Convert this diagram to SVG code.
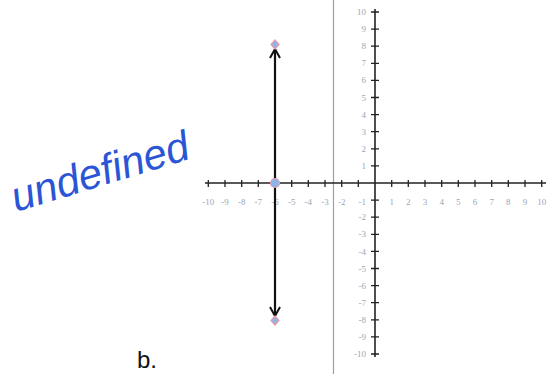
<svg xmlns="http://www.w3.org/2000/svg" width="558" height="374" viewBox="0 0 558 374">
<style>
.axis{stroke:#222;stroke-width:1.6;fill:none}
.tick{stroke:#222;stroke-width:1.3;fill:none}
.lbl{font-family:"Liberation Serif",serif;font-size:9px;fill:#9aa6b8}
.xl{text-anchor:middle}
.yl{text-anchor:end}
.line{stroke:#111;stroke-width:2.2;fill:none}
.dot{fill:#8fb4e8;stroke:#e79aa8;stroke-width:1.2}
</style>
<defs>
<marker id="arr" viewBox="0 0 14 14" refX="12" refY="7" markerWidth="14" markerHeight="14" markerUnits="userSpaceOnUse" orient="auto-start-reverse">
<path d="M3,2 L12,7 L3,12" fill="none" stroke="#111" stroke-width="2"/>
</marker>
</defs>
<rect width="558" height="374" fill="#fff"/>
<line id="border" x1="333.5" y1="0" x2="333.5" y2="374" stroke="#a0a0a0" stroke-width="1.2"/>
<g id="axes">
<line class="axis" x1="205" y1="183" x2="546" y2="183"/>
<line class="axis" x1="375" y1="9" x2="375" y2="357"/>
<path class="tick" d="M208.3,180v7M225,180v7M241.7,180v7M258.3,180v7M275,180v7M291.7,180v7M308.3,180v7M325,180v7M341.7,180v7M358.3,180v7M391.7,180v7M408.3,180v7M425,180v7M441.7,180v7M458.3,180v7M475,180v7M491.7,180v7M508.3,180v7M525,180v7M541.7,180v7"/>
<path class="tick" d="M371,12h8M371,29.1h8M371,46.2h8M371,63.3h8M371,80.4h8M371,97.5h8M371,114.6h8M371,131.7h8M371,148.8h8M371,165.9h8M371,200.1h8M371,217.2h8M371,234.3h8M371,251.4h8M371,268.5h8M371,285.6h8M371,302.7h8M371,319.8h8M371,336.9h8M371,354h8"/>
</g>
<g id="x-labels" class="lbl xl">
<text x="208.3" y="205">-10</text><text x="225" y="205">-9</text><text x="241.7" y="205">-8</text><text x="258.3" y="205">-7</text><text x="275" y="205">-6</text><text x="291.7" y="205">-5</text><text x="308.3" y="205">-4</text><text x="325" y="205">-3</text><text x="341.7" y="205">-2</text>
<text x="391.7" y="205">1</text><text x="408.3" y="205">2</text><text x="425" y="205">3</text><text x="441.7" y="205">4</text><text x="458.3" y="205">5</text><text x="475" y="205">6</text><text x="491.7" y="205">7</text><text x="508.3" y="205">8</text><text x="525" y="205">9</text><text x="541.7" y="205">10</text>
</g>
<g id="y-labels" class="lbl yl">
<text x="366" y="15">10</text><text x="366" y="32">9</text><text x="366" y="49">8</text><text x="366" y="66">7</text><text x="366" y="83">6</text><text x="366" y="100.5">5</text><text x="366" y="117.5">4</text><text x="366" y="134.5">3</text><text x="366" y="151.5">2</text><text x="366" y="169">1</text>
<text x="366" y="205">-1</text><text x="366" y="220">-2</text><text x="366" y="237">-3</text><text x="366" y="254.5">-4</text><text x="366" y="271.5">-5</text><text x="366" y="288.5">-6</text><text x="366" y="305.5">-7</text><text x="366" y="322.5">-8</text><text x="366" y="340">-9</text><text x="366" y="357">-10</text>
</g>
<g id="connectors">
<line class="line" x1="275" y1="49" x2="275" y2="316" marker-start="url(#arr)" marker-end="url(#arr)"/>
</g>
<g id="point-top"><path class="dot" d="M275,40 L279,44.5 L275,49 L271,44.5Z"/></g>
<g id="point-mid"><circle class="dot" cx="275" cy="183" r="4.5"/></g>
<g id="point-bottom"><path class="dot" d="M275,316 L279,320.5 L275,325 L271,320.5Z"/></g>
<text id="undefined-note" x="0" y="0" transform="translate(16,212) rotate(-17)" font-family="Liberation Sans, sans-serif" font-style="italic" font-size="42" fill="#2a56d6" textLength="184" lengthAdjust="spacingAndGlyphs">undefined</text>
<text id="label-b" x="137" y="368" font-family="Liberation Sans, sans-serif" font-size="24" fill="#111">b.</text>
</svg>
